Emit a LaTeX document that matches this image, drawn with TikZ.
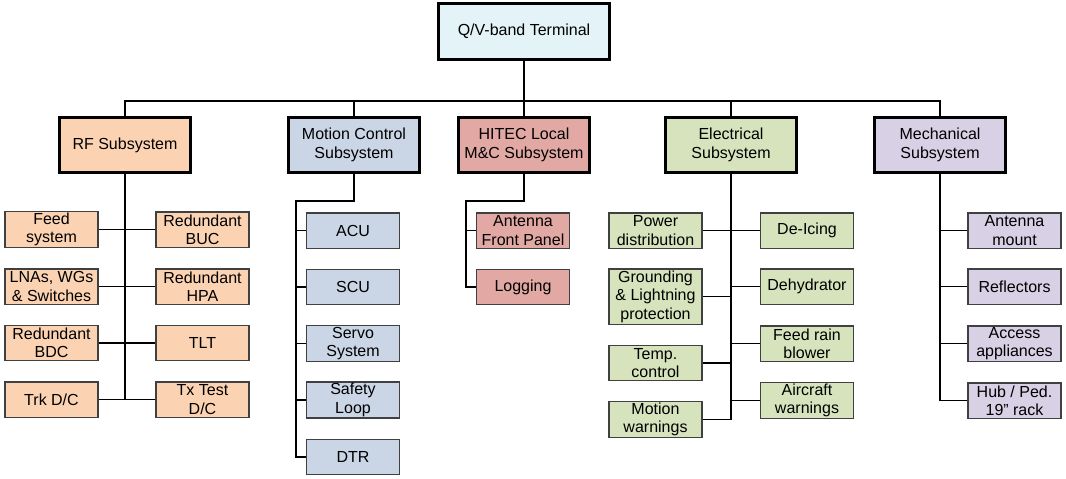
\documentclass[tikz,border=0pt]{standalone}
\usepackage{fontspec}
\setmainfont{Liberation Sans}
\usepackage{tikz}
\definecolor{topc}{HTML}{E4F3F7}
\definecolor{rfc}{HTML}{FBD3B2}
\definecolor{mcc}{HTML}{CAD6E6}
\definecolor{hic}{HTML}{E2A9A4}
\definecolor{elc}{HTML}{D6E3BC}
\definecolor{mec}{HTML}{D8D0E4}

\begin{document}
\begin{tikzpicture}[x=0.75pt,y=-0.75pt,
  box/.style={draw,fill=#1,align=center,inner sep=1pt,
    font=\fontsize{12}{13.8}\selectfont},
  big/.style={box=#1,line width=2.2pt,minimum width=98pt,minimum height=41.5pt},
  item/.style={box=#1,draw=black!75,line width=1.1pt,minimum width=70pt,minimum height=26.6pt},
  link/.style={line width=0.8pt}]
  \useasboundingbox (0,0) rectangle (1066,478);

  \node[big=topc,minimum width=128pt,minimum height=42pt] (t) at (524,31.5) {Q/V-band Terminal};

  \node[big=rfc] (rf) at (125,145) {RF Subsystem};
  \node[big=mcc] (mc) at (354,145) {Motion Control\\Subsystem};
  \node[big=hic] (hi) at (524,145) {HITEC Local\\M\&C Subsystem};
  \node[big=elc] (el) at (731,145) {Electrical\\Subsystem};
  \node[big=mec] (me) at (940,145) {Mechanical\\Subsystem};

  \node[item=rfc] (a1) at (51.5,229.5) {Feed\\system};
  \node[item=rfc] (a2) at (51.5,286.5) {LNAs, WGs\\\& Switches};
  \node[item=rfc] (a3) at (51.5,343) {Redundant\\BDC};
  \node[item=rfc] (a4) at (51.5,399.5) {Trk D/C};
  \node[item=rfc] (b1) at (202.5,229.5) {Redundant\\BUC};
  \node[item=rfc] (b2) at (202.5,286.5) {Redundant\\HPA};
  \node[item=rfc] (b3) at (202.5,343) {TLT};
  \node[item=rfc] (b4) at (202.5,399.5) {Tx Test\\D/C};

  \node[item=mcc] (c1) at (353,230.5) {ACU};
  \node[item=mcc] (c2) at (353,287) {SCU};
  \node[item=mcc] (c3) at (353,343.5) {Servo\\System};
  \node[item=mcc] (c4) at (353,400) {Safety\\Loop};
  \node[item=mcc] (c5) at (353,457) {DTR};

  \node[item=hic] (d1) at (523,230.5) {Antenna\\Front Panel};
  \node[item=hic] (d2) at (523,287) {Logging};

  \node[item=elc] (e1) at (655.5,230.5) {Power\\distribution};
  \node[item=elc,minimum height=41.6pt] (e2) at (655.5,296.5) {Grounding\\\& Lightning\\protection};
  \node[item=elc] (e3) at (655.5,363) {Temp.\\control};
  \node[item=elc] (e4) at (655.5,419.5) {Motion\\warnings};
  \node[item=elc] (f1) at (807,230.5) {De-Icing};
  \node[item=elc] (f2) at (807,286.5) {Dehydrator};
  \node[item=elc] (f3) at (807,343.5) {Feed rain\\blower};
  \node[item=elc] (f4) at (807,400.5) {Aircraft\\warnings};

  \node[item=mec] (g1) at (1014.5,230.5) {Antenna\\mount};
  \node[item=mec] (g2) at (1014.5,286.5) {Reflectors};
  \node[item=mec] (g3) at (1014.5,343.5) {Access\\appliances};
  \node[item=mec] (g4) at (1014.5,400.5) {Hub / Ped.\\19" rack};

  \coordinate (bus) at (0,101);
  \draw[link] (t.south) -- (t.south |- bus);
  \draw[link] (rf.north) -- (rf.north |- bus) -- (me.north |- bus) -- (me.north);
  \draw[link] (mc.north) -- (mc.north |- bus);
  \draw[link] (hi.north) -- (hi.north |- bus);
  \draw[link] (el.north) -- (el.north |- bus);

  \draw[link] (rf.south) -- (rf.south |- a4.east);
  \foreach \i in {1,...,4}
    \draw[link] (a\i.east) -- (b\i.west);

  \coordinate (cb) at (296,201);
  \draw[link] (mc.south) |- (cb) |- (c5.west);
  \foreach \i in {1,...,4}
    \draw[link] (cb |- c\i.west) -- (c\i.west);

  \coordinate (db) at (466,201);
  \draw[link] (hi.south) |- (db) |- (d2.west);
  \draw[link] (db |- d1.west) -- (d1.west);

  \draw[link] (el.south) -- (el.south |- e4.east);
  \foreach \i in {1,...,4} {
    \draw[link] (e\i.east) -- (e\i.east -| el.south);
    \draw[link] (f\i.west) -- (f\i.west -| el.south);
  }

  \draw[link] (me.south) -- (me.south |- g4.west);
  \foreach \i in {1,...,4}
    \draw[link] (g\i.west) -- (g\i.west -| me.south);
\end{tikzpicture}
\end{document}
